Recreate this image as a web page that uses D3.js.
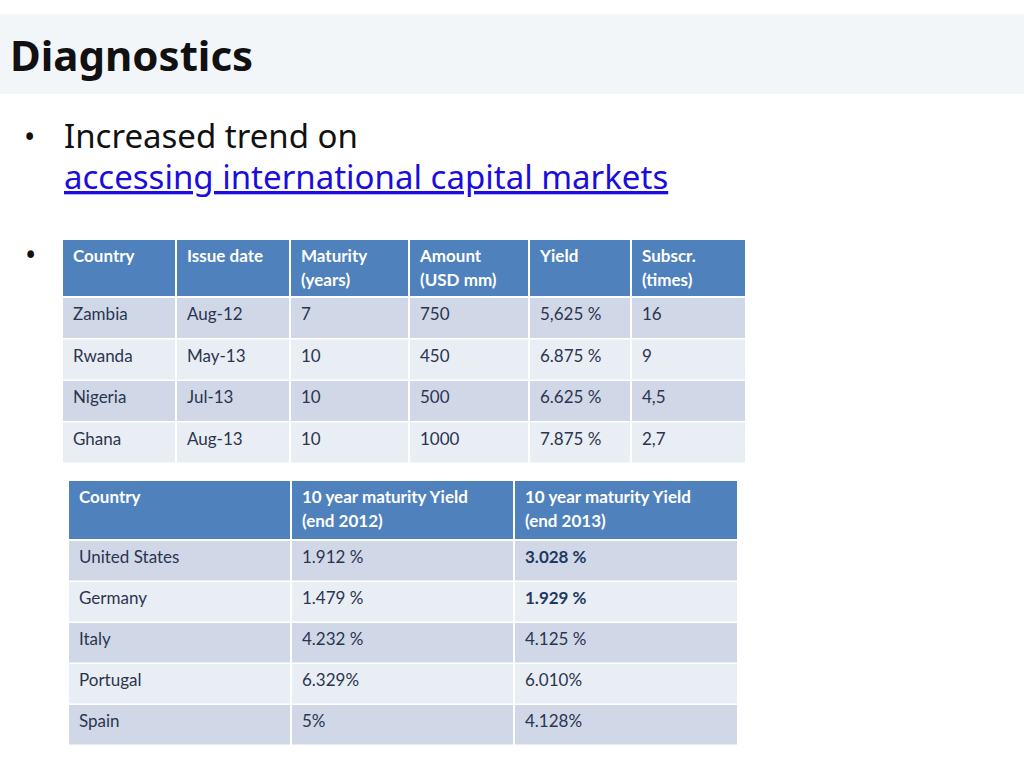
<!DOCTYPE html>
<html><head><meta charset="utf-8">
<script src="https://cdn.jsdelivr.net/npm/d3@7"></script>
<style>body{margin:0;background:#fff}svg{display:block}</style>
</head><body>
<script>
const title = "Diagnostics";
const bulletLine1 = "Increased trend on";
const bulletLine2 = "accessing international capital markets";

const t1Headers = [["Country"],["Issue date"],["Maturity","(years)"],["Amount","(USD mm)"],["Yield"],["Subscr.","(times)"]];
const t1Countries = ["Zambia","Rwanda","Nigeria","Ghana"];
const t1Dates = ["Aug-12","May-13","Jul-13","Aug-13"];
const t1Maturity = ["7","10","10","10"];
const t1Amount = ["750","450","500","1000"];
const t1Yield = ["5,625 %","6.875 %","6.625 %","7.875 %"];
const t1Subscr = ["16","9","4,5","2,7"];

const t2Headers = [["Country"],["10 year maturity Yield","(end 2012)"],["10 year maturity Yield","(end 2013)"]];
const t2Countries = ["United States","Germany","Italy","Portugal","Spain"];
const t2Yield2012 = ["1.912 %","1.479 %","4.232 %","6.329%","5%"];
const t2Yield2013 = ["3.028 %","1.929 %","4.125 %","6.010%","4.128%"];
const t2Bold2013 = [true,true,false,false,false];

const svg = d3.select("body").append("svg").attr("width",1024).attr("height",768);
svg.append("rect").attr("x",0).attr("y",14).attr("width",1024).attr("height",80).attr("fill","#f3f6f9");
svg.append("text").attr("x",10).attr("y",71).attr("font-family","Noto Sans").attr("font-weight","bold")
  .attr("font-size",42).attr("fill","#111").text(title);
svg.append("text").attr("x",24).attr("y",148).attr("font-family","Noto Sans").attr("font-size",30).attr("fill","#111").text("•");
svg.append("text").attr("x",64).attr("y",148).attr("font-family","Noto Sans").attr("font-size",33).attr("fill","#111").text(bulletLine1);
svg.append("text").attr("x",64).attr("y",189).attr("font-family","Noto Sans").attr("font-size",33).attr("fill","#1a0dde")
  .attr("text-decoration","underline").text(bulletLine2);
svg.append("text").attr("x",25).attr("y",266).attr("font-family","Noto Sans").attr("font-size",30).attr("fill","#111").text("•");

function table(x0, cols, headerTop, headerH, rowH, headers, rows, bold){
  const xs = d3.scaleOrdinal().domain(d3.range(cols.length-1)).range(cols.slice(0,-1));
  const g = svg.append("g");
  headers.forEach((h,i)=>{
    g.append("rect").attr("x",cols[i]).attr("y",headerTop).attr("width",cols[i+1]-cols[i]-2).attr("height",headerH).attr("fill","#4f81bd");
    h.forEach((ln,k)=>g.append("text").attr("x",xs(i)+10).attr("y",headerTop+22+k*24)
      .attr("font-family","Lato").attr("font-weight","bold").attr("font-size",17).attr("fill","#fff").text(ln));
  });
  rows.forEach((r,j)=>{
    const y = headerTop+headerH+2+j*(rowH+1.5);
    r.forEach((v,i)=>{
      g.append("rect").attr("x",cols[i]).attr("y",y).attr("width",cols[i+1]-cols[i]-2).attr("height",rowH)
        .attr("fill", j%2===0 ? "#d0d8e8" : "#e9edf4");
      g.append("text").attr("x",xs(i)+10).attr("y",y+22).attr("font-family","Lato").attr("font-size",17)
        .attr("font-weight", bold && bold(j,i) ? "bold":"normal")
        .attr("fill", bold && bold(j,i) ? "#1f3864" : "#2b3550").text(v);
    });
  });
}
const rows1 = t1Countries.map((c,i)=>[c,t1Dates[i],t1Maturity[i],t1Amount[i],t1Yield[i],t1Subscr[i]]);
table(63,[63,177,291,410,530,632,747],240,56,40,t1Headers,rows1,null);
const rows2 = t2Countries.map((c,i)=>[c,t2Yield2012[i],t2Yield2013[i]]);
table(69,[69,292,515,739],481,58,39.5,t2Headers,rows2,(j,i)=>i===2&&t2Bold2013[j]);
</script>
</body></html>
